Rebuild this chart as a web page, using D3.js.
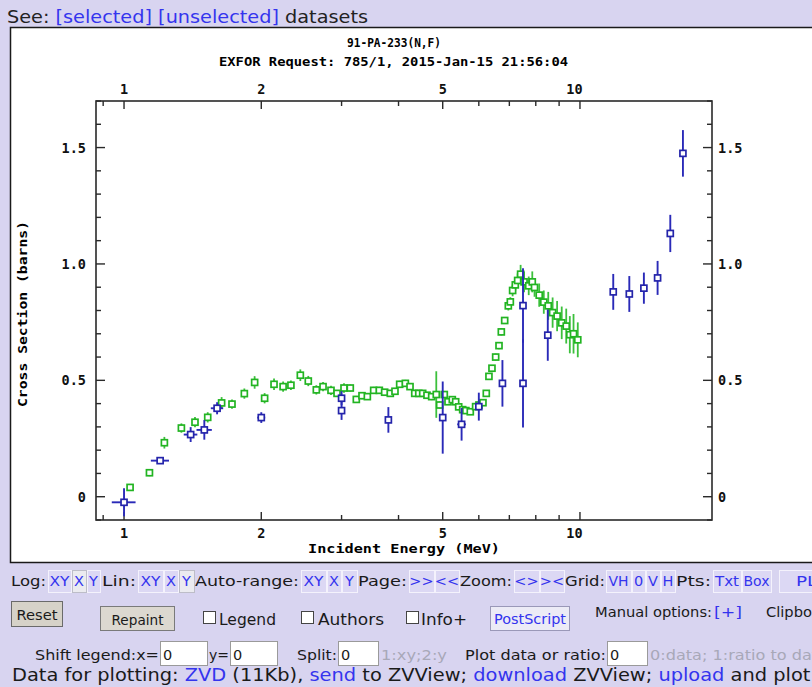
<!DOCTYPE html>
<html>
<head>
<meta charset="utf-8">
<script src="https://cdn.jsdelivr.net/npm/d3@7"></script>
<style>
  body { margin: 0; background: #d8d4f0; }
  svg { display: block; }
</style>
</head>
<body>
<svg id="page" width="812" height="687"></svg>
<script>
// ---- Data: 91-PA-233(N,F) cross sections (barns) vs incident energy (MeV) ----
// Series 1 (green): dense measurement
const greenE = [1.031, 1.137, 1.226, 1.336, 1.431, 1.526, 1.637, 1.725, 1.836, 1.934,
  2.034, 2.133, 2.233, 2.323, 2.436, 2.536, 2.641, 2.732, 2.844, 2.932,
  3.037, 3.135, 3.232, 3.326, 3.417, 3.528, 3.630, 3.729, 3.837, 3.929,
  4.023, 4.140, 4.239, 4.341, 4.430, 4.519, 4.618, 4.729, 4.840, 4.923,
  5.040, 5.135, 5.248, 5.338, 5.420, 5.530, 5.620, 5.747, 5.904, 6.004,
  6.127, 6.231, 6.315, 6.412, 6.533, 6.644, 6.722, 6.837, 6.964, 7.035,
  7.117, 7.214, 7.300, 7.410, 7.540, 7.720, 7.860, 7.950, 8.140, 8.330,
  8.520, 8.710, 8.910, 9.120, 9.330, 9.500, 9.680, 9.890];
const greenXS = [0.040, 0.103, 0.232, 0.295, 0.320, 0.341, 0.403, 0.398, 0.443, 0.491,
  0.423, 0.483, 0.473, 0.479, 0.522, 0.497, 0.459, 0.473, 0.457, 0.444,
  0.467, 0.467, 0.418, 0.434, 0.430, 0.457, 0.457, 0.449, 0.444, 0.453,
  0.483, 0.487, 0.473, 0.444, 0.444, 0.444, 0.436, 0.430, 0.439, 0.394,
  0.439, 0.408, 0.417, 0.408, 0.386, 0.374, 0.370, 0.365, 0.387, 0.394,
  0.404, 0.444, 0.517, 0.552, 0.600, 0.649, 0.708, 0.757, 0.820, 0.837,
  0.886, 0.910, 0.929, 0.956, 0.923, 0.906, 0.923, 0.899, 0.866, 0.836,
  0.820, 0.791, 0.776, 0.747, 0.733, 0.696, 0.700, 0.674];
const greenDXS = [0.012, 0.015, 0.025, 0.020, 0.022, 0.022, 0.025, 0.020, 0.022, 0.027,
  0.022, 0.025, 0.022, 0.020, 0.025, 0.022, 0.020, 0.020, 0.020, 0.015,
  0.020, 0.015, 0.015, 0.015, 0.012, 0.015, 0.015, 0.012, 0.012, 0.012,
  0.015, 0.015, 0.012, 0.015, 0.012, 0.012, 0.012, 0.015, 0.100, 0.015,
  0.012, 0.012, 0.012, 0.012, 0.012, 0.012, 0.012, 0.010, 0.012, 0.012,
  0.012, 0.012, 0.012, 0.012, 0.015, 0.015, 0.015, 0.015, 0.020, 0.020,
  0.025, 0.025, 0.030, 0.040, 0.045, 0.040, 0.045, 0.040, 0.050, 0.050,
  0.060, 0.065, 0.065, 0.070, 0.075, 0.080, 0.085, 0.075];

// Series 2 (blue): sparse measurements with energy resolution
const blueE   = [1.00, 1.20, 1.40, 1.50, 1.60, 2.00, 3.00, 3.00, 3.80, 5.00, 5.50,
  6.00, 6.76, 7.50, 7.50, 8.50, 11.83, 12.83, 13.81, 14.80, 15.78, 16.82];
const blueXS  = [-0.024, 0.155, 0.267, 0.287, 0.380, 0.340, 0.423, 0.370, 0.330, 0.340, 0.311,
  0.387, 0.487, 0.821, 0.487, 0.694, 0.880, 0.871, 0.896, 0.940, 1.131, 1.475];
const blueDXS = [0.060, 0.012, 0.032, 0.042, 0.026, 0.023, 0.030, 0.040, 0.055, 0.155, 0.070,
  0.060, 0.100, 0.160, 0.190, 0.110, 0.077, 0.077, 0.067, 0.073, 0.080, 0.100];
const blueDE  = [0.060, 0.055, 0.048, 0.058, 0.050, 0.040, 0, 0, 0, 0.050, 0.120,
  0, 0, 0, 0, 0, 0, 0, 0, 0, 0, 0];

// Axis ticks
const xMajorTicks = [1, 2, 5, 10];
const xMinorTicks = [0.9, 3, 4, 6, 7, 8, 9];
const yMajorTicks = [0, 0.5, 1.0, 1.5];
const yTickLabels = ["0", "0.5", "1.0", "1.5"];
const yMinorTicks = [-0.1, 0.1, 0.2, 0.3, 0.4, 0.6, 0.7, 0.8, 0.9, 1.1, 1.2, 1.3, 1.4, 1.6, 1.7];

const titleLine1 = "91-PA-233(N,F)";
const titleLine2 = "EXFOR Request: 785/1, 2015-Jan-15 21:56:04";
const xTitle = "Incident Energy (MeV)";
const yTitle = "Cross Section (barns)";

// ---- Layout ----
const svg = d3.select("#page");
const plot = { left: 96, right: 712, top: 101, bottom: 520 };
const x = d3.scaleLog().domain([0.868, 19.48]).range([plot.left, plot.right]);
const y = d3.scaleLinear().domain([-0.1, 1.7]).range([plot.bottom, plot.top]);

const mono = "'DejaVu Sans Mono', 'Liberation Mono', monospace";
const ui = "'DejaVu Sans', Verdana, sans-serif";
const linkBlue = "#3434ee";

// page header
const hdr = svg.append("text").attr("x", 7).attr("y", 23)
  .attr("font-family", ui).attr("font-size", 17).attr("fill", "#222")
  .attr("textLength", 361).attr("lengthAdjust", "spacingAndGlyphs");
hdr.append("tspan").text("See: ");
hdr.append("tspan").attr("fill", linkBlue).text("[selected]");
hdr.append("tspan").text(" ");
hdr.append("tspan").attr("fill", linkBlue).text("[unselected]");
hdr.append("tspan").text(" datasets");

// white chart panel
svg.append("rect").attr("x", 10.5).attr("y", 27.5).attr("width", 820).attr("height", 535)
  .attr("fill", "#fff").attr("stroke", "#1a1a1a").attr("stroke-width", 1.5);

// chart titles
svg.append("text").attr("x", 394).attr("y", 47).attr("text-anchor", "middle")
  .attr("font-family", mono).attr("font-weight", "bold").attr("font-size", 12)
  .attr("textLength", 94).attr("lengthAdjust", "spacingAndGlyphs").text(titleLine1);
svg.append("text").attr("x", 393.5).attr("y", 66).attr("text-anchor", "middle")
  .attr("font-family", mono).attr("font-weight", "bold").attr("font-size", 12.5)
  .attr("textLength", 349).attr("lengthAdjust", "spacingAndGlyphs").text(titleLine2);

// plot frame
const g = svg.append("g");
g.append("rect").attr("x", plot.left).attr("y", plot.top)
  .attr("width", plot.right - plot.left).attr("height", plot.bottom - plot.top)
  .attr("fill", "none").attr("stroke", "#2a2a2a").attr("stroke-width", 1.6);

// ticks drawn inward on all four sides
const tickCol = "#2a2a2a";
function xTicks(vals, len) {
  vals.forEach(v => {
    g.append("line").attr("x1", x(v)).attr("x2", x(v)).attr("y1", plot.bottom).attr("y2", plot.bottom - len)
      .attr("stroke", tickCol).attr("stroke-width", 1.4);
    g.append("line").attr("x1", x(v)).attr("x2", x(v)).attr("y1", plot.top).attr("y2", plot.top + len)
      .attr("stroke", tickCol).attr("stroke-width", 1.4);
  });
}
function yTicks(vals, len) {
  vals.forEach(v => {
    g.append("line").attr("x1", plot.left).attr("x2", plot.left + len).attr("y1", y(v)).attr("y2", y(v))
      .attr("stroke", tickCol).attr("stroke-width", 1.4);
    g.append("line").attr("x1", plot.right).attr("x2", plot.right - len).attr("y1", y(v)).attr("y2", y(v))
      .attr("stroke", tickCol).attr("stroke-width", 1.4);
  });
}
xTicks(xMajorTicks, 8);
xTicks(xMinorTicks, 5);
yTicks(yMajorTicks, 9);
yTicks(yMinorTicks, 5);

// tick labels (two-digit labels sit slightly left of their tick)
const lab = { "font-family": mono, "font-weight": "bold", "font-size": 13.5, "fill": "#111" };
function styled(sel) { Object.entries(lab).forEach(([k, v]) => sel.attr(k, v)); return sel; }
xMajorTicks.forEach(v => {
  const dx = String(v).length > 1 ? -5.5 : 0;
  styled(svg.append("text")).attr("x", x(v) + dx).attr("y", 538).attr("text-anchor", "middle").text(v);
  styled(svg.append("text")).attr("x", x(v) + dx).attr("y", 94).attr("text-anchor", "middle").text(v);
});
yMajorTicks.forEach((v, i) => {
  styled(svg.append("text")).attr("x", 86).attr("y", y(v) + 5).attr("text-anchor", "end").text(yTickLabels[i]);
  styled(svg.append("text")).attr("x", 718).attr("y", y(v) + 5).attr("text-anchor", "start").text(yTickLabels[i]);
});

// axis titles
svg.append("text").attr("x", 404).attr("y", 553).attr("text-anchor", "middle")
  .attr("font-family", mono).attr("font-weight", "bold").attr("font-size", 12.5)
  .attr("textLength", 192).attr("lengthAdjust", "spacingAndGlyphs").text(xTitle);
svg.append("text").attr("transform", "translate(27,314) rotate(-90)").attr("text-anchor", "middle")
  .attr("font-family", mono).attr("font-weight", "bold").attr("font-size", 12.5)
  .attr("textLength", 186).attr("lengthAdjust", "spacingAndGlyphs").text(yTitle);

// ---- data marks ----
const clipId = "plotclip";
svg.append("clipPath").attr("id", clipId).append("rect")
  .attr("x", plot.left).attr("y", plot.top).attr("width", plot.right - plot.left).attr("height", plot.bottom - plot.top);
const marks = svg.append("g").attr("clip-path", `url(#${clipId})`);

const greenData = greenE.map((e, i) => ({ e, v: greenXS[i], dv: greenDXS[i] }));
const blueData = blueE.map((e, i) => ({ e, v: blueXS[i], dv: blueDXS[i], de: blueDE[i] }));

const GREEN = "#22b422", GREEN_BAR = "#3cc03c";
const BLUE = "#2424aa", BLUE_BAR = "#2a2ab8";
const S = 6; // marker size

const gG = marks.append("g");
gG.selectAll("line.ey").data(greenData).join("line")
  .attr("x1", d => x(d.e)).attr("x2", d => x(d.e))
  .attr("y1", d => y(d.v - d.dv)).attr("y2", d => y(d.v + d.dv))
  .attr("stroke", GREEN_BAR).attr("stroke-width", 1.8);
gG.selectAll("rect").data(greenData).join("rect")
  .attr("x", d => x(d.e) - S / 2).attr("y", d => y(d.v) - S / 2).attr("width", S).attr("height", S)
  .attr("fill", "#fff").attr("stroke", GREEN).attr("stroke-width", 1.7);

const gB = marks.append("g");
gB.selectAll("line.ey").data(blueData).join("line")
  .attr("x1", d => x(d.e)).attr("x2", d => x(d.e))
  .attr("y1", d => y(d.v - d.dv)).attr("y2", d => y(d.v + d.dv))
  .attr("stroke", BLUE_BAR).attr("stroke-width", 1.9);
gB.selectAll("line.ex").data(blueData.filter(d => d.de > 0)).join("line")
  .attr("x1", d => x(d.e - d.de)).attr("x2", d => x(d.e + d.de))
  .attr("y1", d => y(d.v)).attr("y2", d => y(d.v))
  .attr("stroke", BLUE_BAR).attr("stroke-width", 1.9);
gB.selectAll("rect").data(blueData).join("rect")
  .attr("x", d => x(d.e) - S / 2).attr("y", d => y(d.v) - S / 2).attr("width", S).attr("height", S)
  .attr("fill", "#fff").attr("stroke", BLUE).attr("stroke-width", 1.7);

// ---- control strip below the chart ----
function txt(xp, yp, s, opts = {}) {
  const t = svg.append("text").attr("x", xp).attr("y", yp)
    .attr("font-family", ui).attr("font-size", opts.size || 14.5)
    .attr("fill", opts.fill || "#1a1a1a").text(s);
  if (opts.len) t.attr("textLength", opts.len).attr("lengthAdjust", "spacingAndGlyphs");
  if (opts.anchor) t.attr("text-anchor", opts.anchor);
  return t;
}
function btn(x0, x1, y0, y1, s, opts = {}) {
  svg.append("rect").attr("x", x0 + 0.5).attr("y", y0 + 0.5).attr("width", x1 - x0).attr("height", y1 - y0)
    .attr("fill", opts.bg || "#dcd8f4").attr("stroke", opts.border || "#f4f2fc").attr("stroke-width", 1);
  if (opts.left != null) {
    txt(opts.left, opts.base || (y1 - 6), s, { fill: opts.fill || linkBlue, size: opts.size || 14.5, len: opts.len });
  } else {
    txt((x0 + x1) / 2, opts.base || (y1 - 6), s, { anchor: "middle", fill: opts.fill || linkBlue, size: opts.size || 14.5, len: opts.len });
  }
}

// row 1
const r1 = 586, b0 = 570, b1 = 592;
txt(11, r1, "Log:", { len: 35 });
btn(48, 71, b0, b1, "XY", { len: 20 });
btn(72, 86, b0, b1, "X", { bg: "#ebebf0", border: "#bdbdc8" });
btn(87, 100, b0, b1, "Y");
txt(102, r1, "Lin:", { len: 34 });
btn(138, 163, b0, b1, "XY", { len: 20 });
btn(164, 178, b0, b1, "X");
btn(179, 194, b0, b1, "Y", { bg: "#ebebf0", border: "#bdbdc8" });
txt(195, r1, "Auto-range:", { len: 104 });
btn(301, 326, b0, b1, "XY", { len: 20 });
btn(327, 341, b0, b1, "X");
btn(342, 357, b0, b1, "Y");
txt(358, r1, "Page:", { len: 49 });
btn(409, 434, b0, b1, ">>");
btn(435, 459, b0, b1, "<<");
txt(460, r1, "Zoom:", { len: 52 });
btn(514, 539, b0, b1, "<>");
btn(540, 564, b0, b1, "><");
txt(565, r1, "Grid:", { len: 40 });
btn(606, 631, b0, b1, "VH", { len: 20 });
btn(632, 645, b0, b1, "0");
btn(646, 660, b0, b1, "V");
btn(661, 675, b0, b1, "H");
txt(676, r1, "Pts:", { len: 35 });
btn(713, 741, b0, b1, "Txt", { len: 24 });
btn(742, 771, b0, b1, "Box", { len: 26 });
btn(779, 830, b0, b1, "PLT", { left: 796, len: 30 });

// row 2
svg.append("rect").attr("x", 11.5).attr("y", 601.5).attr("width", 51).attr("height", 25)
  .attr("fill", "#d6d2c8").attr("stroke", "#6a6a6a");
txt(37, 620, "Reset", { anchor: "middle", len: 41 });
svg.append("rect").attr("x", 100.5).attr("y", 606.5).attr("width", 74).attr("height", 24)
  .attr("fill", "#dcd8d0").attr("stroke", "#7a7a7a");
txt(137.5, 625, "Repaint", { anchor: "middle", len: 52, size: 14 });
[[203, 219, "Legend", 57], [301, 318, "Authors", 66], [406, 421, "Info+", 46]].forEach(([bx, tx, s, l]) => {
  svg.append("rect").attr("x", bx + 0.5).attr("y", 611.5).attr("width", 12).attr("height", 12)
    .attr("fill", "#fff").attr("stroke", "#444");
  txt(tx, 625, s, { len: l, size: 16 });
});
svg.append("rect").attr("x", 490.5).attr("y", 606.5).attr("width", 79).attr("height", 24)
  .attr("fill", "#ecebf6").attr("stroke", "#9a98b8");
txt(530, 624, "PostScript", { anchor: "middle", fill: linkBlue, len: 72 });
txt(595, 617, "Manual options:", { len: 117 });
txt(714, 617, "[+]", { fill: linkBlue, len: 28 });
txt(766, 617, "Clipboard", { len: 70 });

// row 3
const r3 = 660;
function inputBox(x0, x1) {
  svg.append("rect").attr("x", x0 + 0.5).attr("y", 641.5).attr("width", x1 - x0).attr("height", 24)
    .attr("fill", "#fff").attr("stroke", "#9a9a9a");
  txt(x0 + 3, r3, "0");
}
txt(35, r3, "Shift legend:x=", { len: 124 });
inputBox(160, 207);
txt(209, r3, "y=", { len: 20 });
inputBox(230, 277);
txt(297, r3, "Split:", { len: 40 });
inputBox(338, 378);
txt(381, r3, "1:xy;2:y", { fill: "#a8a8b8", len: 66 });
txt(465, r3, "Plot data or ratio:", { len: 141 });
inputBox(607, 647);
txt(650, r3, "0:data; 1:ratio to data", { fill: "#a8a8b8", len: 178 });

// row 4
const r4 = 681;
const row4 = svg.append("text").attr("x", 12).attr("y", r4).attr("font-family", ui).attr("font-size", 17.5)
  .attr("fill", "#1a1a1a").attr("textLength", 898).attr("lengthAdjust", "spacingAndGlyphs");
[["Data for plotting: ", null], ["ZVD", linkBlue], [" (11Kb), ", null], ["send", linkBlue],
 [" to ZVView; ", null], ["download", linkBlue], [" ZVView; ", null], ["upload", linkBlue],
 [" and plot your data", null]].forEach(([s, c]) => {
  const ts = row4.append("tspan").text(s);
  if (c) ts.attr("fill", c);
});
</script>
</body>
</html>
